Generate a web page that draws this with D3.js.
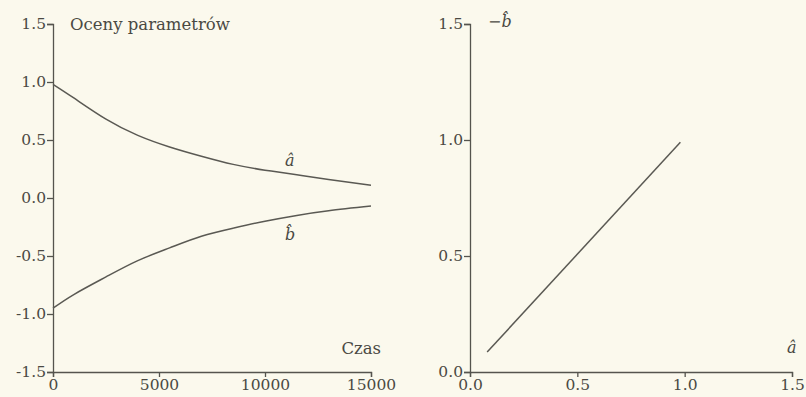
<!DOCTYPE html>
<html>
<head>
<meta charset="utf-8">
<script src="https://d3js.org/d3.v7.min.js"></script>
<style>
  body { margin: 0; background: #fbf9ed; }
  svg { display: block; }
  .axis text { font-family: "DejaVu Serif", serif; font-size: 15.5px; fill: #4a4943; }
  .axis path, .axis line { stroke: #55544e; stroke-width: 1.3px; }
  .lbl { font-family: "DejaVu Serif", serif; font-size: 16.5px; fill: #4a4943; }
  .math { font-family: "DejaVu Serif", serif; font-style: italic; font-size: 16px; fill: #4a4943; }
  .curve { fill: none; stroke: #5a5953; stroke-width: 1.5px; }
</style>
</head>
<body>
<svg width="806" height="397"></svg>
<script>
// left panel: parameter estimates vs time
const time = [0, 1000, 2500, 4000, 5500, 7000, 8500, 10000, 11500, 13000, 15000];
const aHat = [0.98, 0.86, 0.68, 0.54, 0.44, 0.36, 0.29, 0.24, 0.20, 0.16, 0.11];
const bHat = [-0.95, -0.83, -0.68, -0.54, -0.43, -0.33, -0.26, -0.20, -0.15, -0.11, -0.07];

// right panel: -b versus a
const phaseA = [0.08, 0.98];
const phaseMinusB = [0.086, 0.99];

const leftYTicks = [-1.5, -1.0, -0.5, 0.0, 0.5, 1.0, 1.5];
const leftXTicks = [0, 5000, 10000, 15000];
const rightTicks = [0.0, 0.5, 1.0, 1.5];

var svg = d3.select("svg");

// ---- left
var x1 = d3.scaleLinear().domain([0, 15000]).range([53, 371]);
var y1 = d3.scaleLinear().domain([-1.5, 1.5]).range([372, 24]);

svg.append("g").attr("class", "axis")
  .attr("transform", "translate(0," + y1(-1.5) + ")")
  .call(d3.axisBottom(x1).tickValues(leftXTicks).tickFormat(d3.format("d")).tickSizeOuter(0).tickSize(5).tickPadding(2));

svg.append("g").attr("class", "axis")
  .attr("transform", "translate(" + x1(0) + ",0)")
  .call(d3.axisLeft(y1).tickValues(leftYTicks).tickFormat(function(d) { return d.toFixed(1); }).tickSizeOuter(0).tickSize(6).tickPadding(1));

var line1 = d3.line().curve(d3.curveNatural)
  .x(function(d) { return x1(d[0]); })
  .y(function(d) { return y1(d[1]); });

svg.append("path").attr("class", "curve").attr("d", line1(d3.zip(time, aHat)));
svg.append("path").attr("class", "curve").attr("d", line1(d3.zip(time, bHat)));

svg.append("text").attr("class", "lbl").attr("x", 70).attr("y", 30).text("Oceny parametrów");
svg.append("text").attr("class", "lbl").attr("x", 381).attr("y", 354).attr("text-anchor", "end").text("Czas");
svg.append("text").attr("class", "math").attr("x", 285).attr("y", 166).text("â");
svg.append("text").attr("class", "math").attr("x", 285).attr("y", 240).text("b\u0302");

// ---- right
var x2 = d3.scaleLinear().domain([0, 1.5]).range([470, 792]);
var y2 = d3.scaleLinear().domain([0, 1.5]).range([372, 24]);

svg.append("g").attr("class", "axis")
  .attr("transform", "translate(0," + y2(0) + ")")
  .call(d3.axisBottom(x2).tickValues(rightTicks).tickFormat(function(d) { return d.toFixed(1); }).tickSizeOuter(0).tickSize(5).tickPadding(2));

svg.append("g").attr("class", "axis")
  .attr("transform", "translate(" + x2(0) + ",0)")
  .call(d3.axisLeft(y2).tickValues(rightTicks).tickFormat(function(d) { return d.toFixed(1); }).tickSizeOuter(0).tickSize(6).tickPadding(1));

var line2 = d3.line()
  .x(function(d) { return x2(d[0]); })
  .y(function(d) { return y2(d[1]); });

svg.append("path").attr("class", "curve").attr("d", line2(d3.zip(phaseA, phaseMinusB)));

svg.append("text").attr("class", "math").attr("x", 488).attr("y", 27).text("\u2212b\u0302");
svg.append("text").attr("class", "math").attr("x", 787).attr("y", 353).text("â");
</script>
</body>
</html>
